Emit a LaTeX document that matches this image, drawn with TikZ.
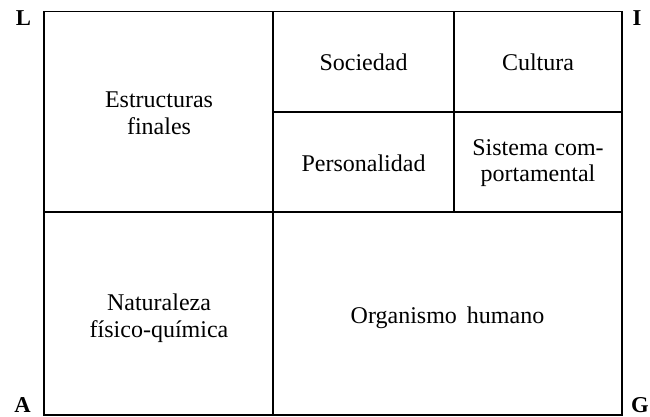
\documentclass[tikz,border=0pt]{standalone}
\usepackage{fontspec}
\setmainfont{Liberation Serif}
\begin{document}
\begin{tikzpicture}[x=0.75pt,y=-0.75pt,
  cell/.style={align=center,font=\fontsize{18}{20}\selectfont,inner sep=0pt},
  corner/.style={font=\fontsize{17}{19.5}\selectfont\bfseries,inner sep=0pt},
  rule/.style={line width=1.1pt}]
\useasboundingbox (0,0) rectangle (650,417);
% grid corners
\coordinate (tl) at (44,11.5);
\coordinate (br) at (622,415);
\coordinate (m1t) at (273,11.5);
\coordinate (m1b) at (273,415);
\coordinate (hl) at (44,212);
\coordinate (hr) at (622,212);
\coordinate (m2t) at (454,11.5);
\coordinate (m2b) at (454,212);
\coordinate (h2l) at (273,112);
\coordinate (h2r) at (622,112);
\draw[rule] (tl) rectangle (br);
\draw[rule] (m1t) -- (m1b);
\draw[rule] (hl) -- (hr);
\draw[rule] (m2t) -- (m2b);
\draw[rule] (h2l) -- (h2r);
% cells
\node[cell] (ef) at (159,113) {Estructuras\\finales};
\node[cell] (soc) at (363.5,62) {Sociedad};
\node[cell] (cul) at (538,62) {Cultura};
\node[cell] (per) at (363.5,163) {Personalidad};
\node[cell] (sis) at (538,163) {Sistema com-\\portamental};
\node[cell] (nat) at (159,318) {Naturaleza\\físico-química};
\node[cell] (org) at (447.5,318) {Organismo\, humano};
% corner letters
\node[corner,anchor=base] (L) at (23.5,26) {L};
\node[corner,anchor=base] (I) at (637,26) {I};
\node[corner,anchor=base] (A) at (22.5,412) {A};
\node[corner,anchor=base] (G) at (640,412) {G};
\end{tikzpicture}
\end{document}
